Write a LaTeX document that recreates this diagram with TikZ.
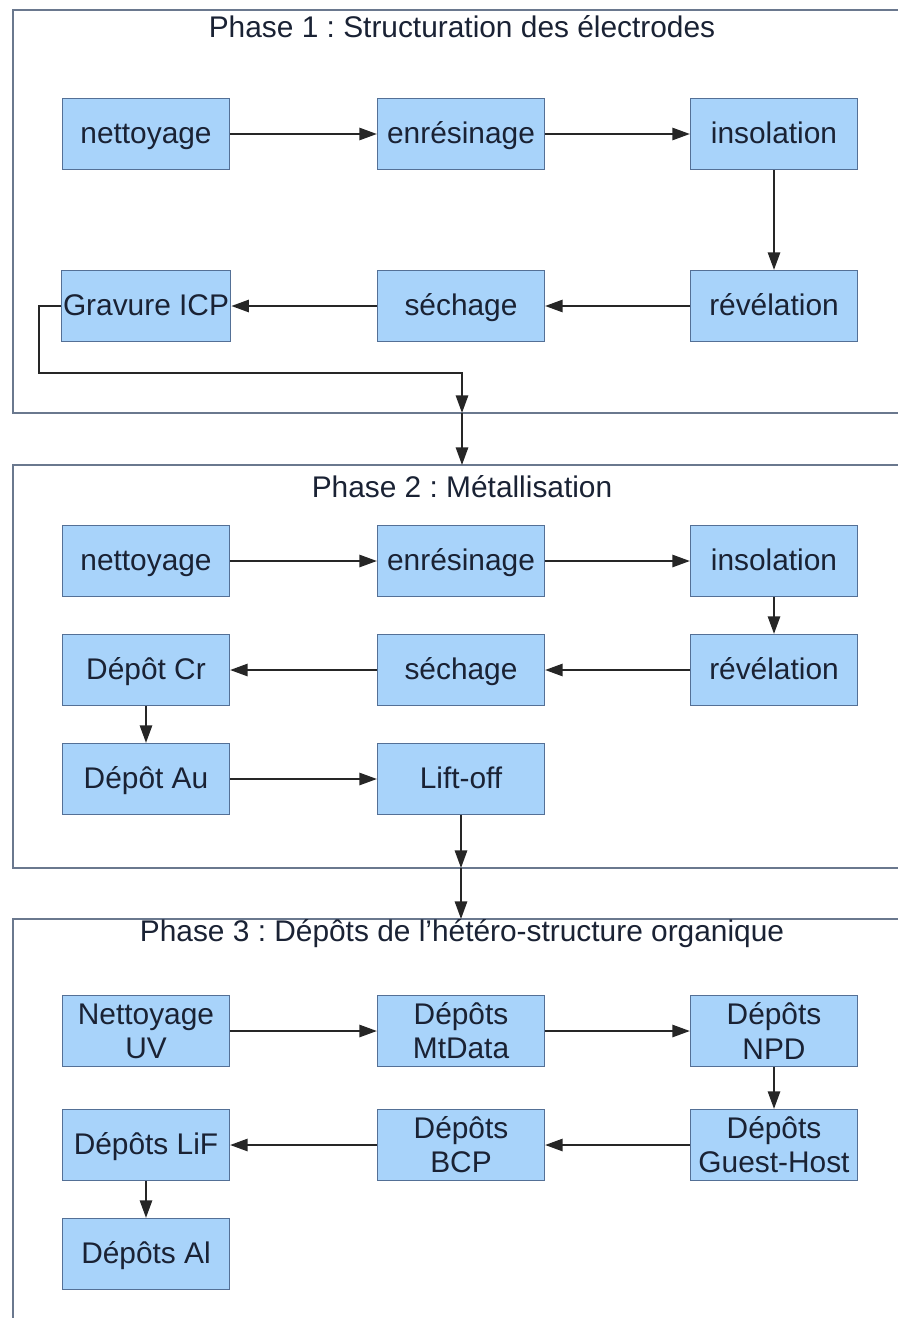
\documentclass[tikz,border=0pt]{standalone}
\usepackage{fontspec}
\setmainfont{Liberation Sans}
\usepackage{tikz}
\usetikzlibrary{positioning,arrows.meta}
\usepackage{xcolor}
\definecolor{boxfill}{RGB}{168,211,250}
\definecolor{boxline}{RGB}{84,112,150}
\definecolor{frameline}{RGB}{106,120,142}
\definecolor{txt}{RGB}{26,34,52}
\frenchspacing

\begin{document}
\begin{tikzpicture}[x=0.02cm,y=-0.02cm,
          every node/.style={font=\fontsize{17}{19.4}\selectfont,text=txt},
          stepbase/.style={draw=boxline,fill=boxfill,line width=0.7pt,minimum width=3.34cm,minimum height=1.42cm,inner sep=1pt},
          stepbox/.style={stepbase,text height=14.5pt,text depth=3.9pt},
          steptwo/.style={stepbase,align=center},
          flow/.style={-{Triangle[length=10pt,width=7pt]},line width=1.1pt,black!85},
          phaseframe/.style={frameline,line width=1pt},
        ]
        \useasboundingbox (0,0) rectangle (898,1318);
        \draw[phaseframe] (898,10) -| (13,413) -- (898,413);
        \draw[phaseframe] (898,465) -| (13,868) -- (898,868);
        \draw[phaseframe] (898,919) -| (13,1318);
        \node[anchor=base] (t1) at (462,38) {Phase 1 : Structuration des électrodes};
        \node[anchor=base] (t2) at (462,497) {Phase 2 : Métallisation};
        \node[anchor=base] (t3) at (462,941) {Phase 3 : Dépôts de l’hétéro-structure organique};
        \foreach \nm/\x/\y/\lab in {n1/146/134/nettoyage,e1/461/134/enrésinage,i1/774/134/insolation,
            r1/774/306/révélation,s1/461/306/séchage,g1/146/306/Gravure ICP,
            n2/146/561/nettoyage,e2/461/561/enrésinage,i2/774/561/insolation,
            r2/774/670/révélation,s2/461/670/séchage,cr2/146/670/Dépôt Cr,
            au2/146/779/Dépôt Au,lo2/461/779/Lift-off,
            lif3/146/1145/Dépôts LiF,al3/146/1254/Dépôts Al} {
          \node[stepbox] (\nm) at (\x,\y) {\lab};
        }
        \node[steptwo] (uv3) at (146,1031) {Nettoyage\\UV};
        \node[steptwo] (mt3) at (461,1031) {Dépôts\\MtData};
        \node[steptwo] (npd3) at (774,1031) {Dépôts\\NPD};
        \node[steptwo] (gh3) at (774,1145) {Dépôts\\Guest-Host};
        \node[steptwo] (bcp3) at (461,1145) {Dépôts\\BCP};
        \coordinate (c1) at (462,413);
        \coordinate (c2) at (462,465);
        \coordinate (c3) at (461,868);
        \coordinate (c4) at (461,919);
        \foreach \a/\b in {n1/e1,e1/i1,i1/r1,r1/s1,s1/g1,
            n2/e2,e2/i2,i2/r2,r2/s2,s2/cr2,cr2/au2,au2/lo2,
            uv3/mt3,mt3/npd3,npd3/gh3,gh3/bcp3,bcp3/lif3,lif3/al3} {
          \draw[flow] (\a) -- (\b);
        }
        \draw[flow] (g1.west) -- ++(-22,0) -- ++(0,67) -| (c1);
        \draw[flow] (c1) -- (c2);
        \draw[flow] (lo2) -- (c3);
        \draw[flow] (c3) -- (c4);
      \end{tikzpicture}
\end{document}
